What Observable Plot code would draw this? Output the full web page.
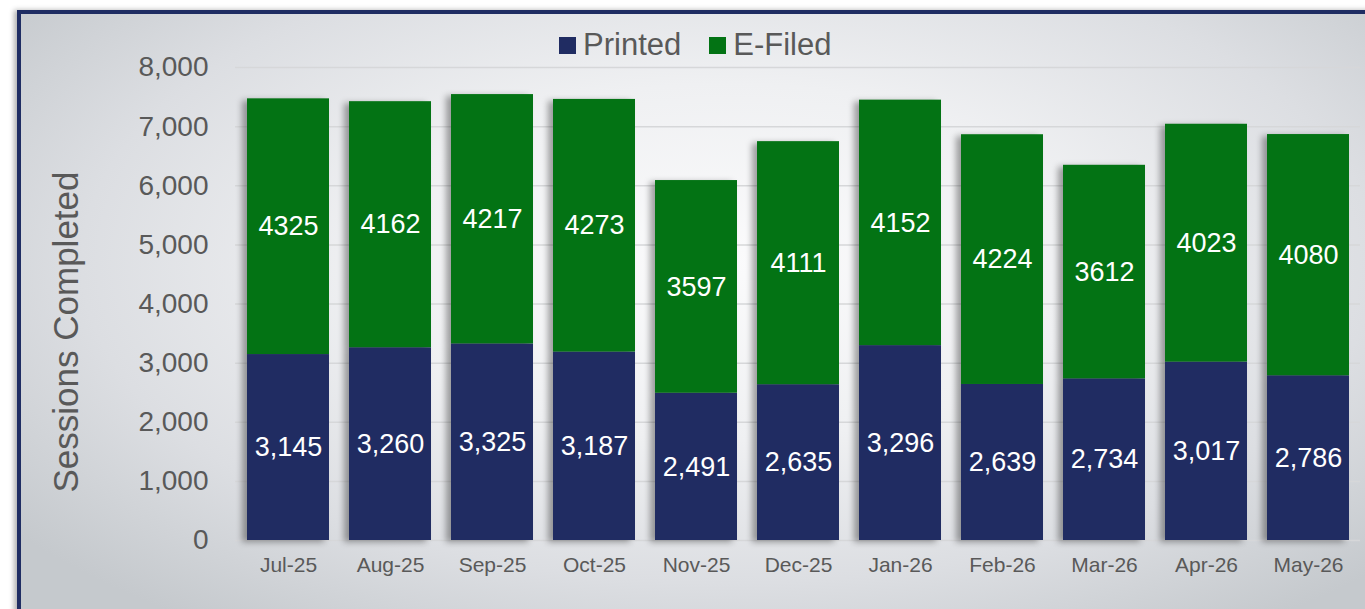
<!DOCTYPE html>
<html><head><meta charset="utf-8">
<script src="https://cdn.jsdelivr.net/npm/d3@7"></script>
<script src="https://cdn.jsdelivr.net/npm/@observablehq/plot@0.6"></script>
<style>
body{margin:0;background:#fff;font-family:"Liberation Sans",Arial,sans-serif;}
#wrap{position:relative;width:1365px;height:609px;overflow:hidden;}
#panel{position:absolute;left:17px;top:10px;width:1360px;height:620px;border-left:4px solid #1f2d63;border-top:4px solid #1f2d63;
  background:radial-gradient(ellipse 66% 72% at 52% 40%, #fbfbfc 0%, #eff0f2 40%, #dcdee2 72%, #c5c9cd 100%);
  box-shadow:-3px 0 5px rgba(0,0,0,0.3);}
#chart{position:absolute;left:0;top:0;}
#chart svg{background:transparent;overflow:visible;}
#legend{position:absolute;left:559px;top:27px;display:flex;align-items:center;font-size:31px;color:#595959;}
#legend .sw{width:17px;height:17px;display:inline-block;margin-right:7px;}
#legend .item{display:flex;align-items:center;margin-right:28px;}
g[aria-label="bar"]{filter:drop-shadow(-5px 2px 3px rgba(0,0,0,0.35));}
g[aria-label="y-axis label"]{translate:-12px 28px;}
g[aria-label="y-axis label"] text{font-size:35px;}
</style></head>
<body>
<div id="wrap"><div id="panel"></div><div id="chart"></div><div id="legend"></div></div>
<script>
const months = ["Jul-25","Aug-25","Sep-25","Oct-25","Nov-25","Dec-25","Jan-26","Feb-26","Mar-26","Apr-26","May-26"];
const printed = [3145,3260,3325,3187,2491,2635,3296,2639,2734,3017,2786];
const efiled = [4325,4162,4217,4273,3597,4111,4152,4224,3612,4023,4080];
const seriesNames = ["Printed","E-Filed"];
const seriesColors = ["#202c62","#037314"];
const yTicks = [0,1000,2000,3000,4000,5000,6000,7000,8000];

const data = [];
months.forEach((m,i)=>{
  data.push({month:m, series:"Printed", value:printed[i]});
  data.push({month:m, series:"E-Filed", value:efiled[i]});
});
const fmtComma = d3.format(",");

const chart = Plot.plot({
  width:1365, height:609,
  marginLeft:235, marginRight:5, marginTop:67, marginBottom:69,
  style:{fontFamily:'"Liberation Sans", Arial, sans-serif', color:"#595959", background:"transparent"},
  x:{domain:months, paddingInner:0.2, paddingOuter:0.1},
  y:{domain:[0,8000]},
  color:{domain:seriesNames, range:seriesColors},
  marks:[
    Plot.gridY(yTicks, {stroke:"#d6d7d9", strokeOpacity:1, strokeWidth:1.5}),
    Plot.axisY(yTicks, {tickSize:0, tickPadding:27, fontSize:28, tickFormat:d3.format(","), label:"Sessions Completed", labelAnchor:"center", labelArrow:"none", labelOffset:170, fill:"#595959"}),
    Plot.axisX({tickSize:0, tickPadding:17, fontSize:21, label:null, fill:"#595959"}),
    Plot.barY(data, {x:"month", y:"value", fill:"series", order:seriesNames}),
    Plot.text(data, Plot.stackY({x:"month", y:"value", z:"series", order:seriesNames,
      text:d=> d.series==="Printed" ? fmtComma(d.value) : String(d.value),
      fill:"white", fontSize:27}))
  ]
});
document.getElementById("chart").appendChild(chart);

const legend = document.getElementById("legend");
seriesNames.forEach((s,i)=>{
  const it = document.createElement("div"); it.className="item";
  const sw = document.createElement("span"); sw.className="sw"; sw.style.background=seriesColors[i];
  const tx = document.createElement("span"); tx.textContent=s;
  it.appendChild(sw); it.appendChild(tx); legend.appendChild(it);
});
</script>
</body></html>
